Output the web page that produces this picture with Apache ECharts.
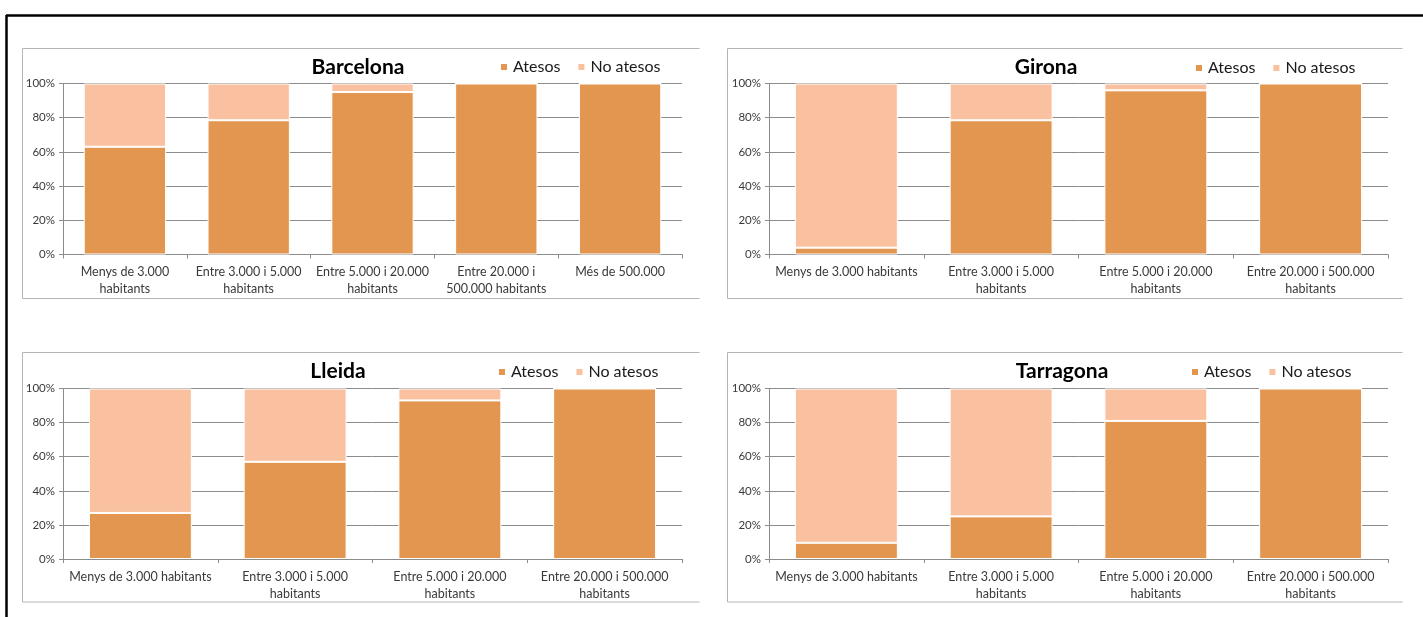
<!DOCTYPE html>
<html>
<head>
<meta charset="utf-8">
<script src="https://cdn.jsdelivr.net/npm/echarts@6/dist/echarts.min.js"></script>
<style>
  html, body { margin: 0; padding: 0; background: #fff; }
  #chart { width: 1423px; height: 617px; }
</style>
</head>
<body>
<div id="chart"></div>
<script>
// Percentage of municipalities served ("Atesos") vs not served ("No atesos"),
// by municipality size, for each of the four provinces.
const seriesNames = ['Atesos', 'No atesos'];
const yTickValues = [0, 20, 40, 60, 80, 100];

const barcelonaCategories = ['Menys de 3.000\nhabitants', 'Entre 3.000 i 5.000\nhabitants', 'Entre 5.000 i 20.000\nhabitants', 'Entre 20.000 i\n500.000 habitants', 'Més de 500.000'];
const barcelonaAtesos   = [63, 78.5, 95, 100, 100];
const barcelonaNoAtesos = [37, 21.5, 5, 0, 0];

const provinceCategories = ['Menys de 3.000 habitants', 'Entre 3.000 i 5.000\nhabitants', 'Entre 5.000 i 20.000\nhabitants', 'Entre 20.000 i 500.000\nhabitants'];

const gironaAtesos   = [4, 78.5, 96, 100];
const gironaNoAtesos = [96, 21.5, 4, 0];

const lleidaAtesos   = [27, 57, 93, 100];
const lleidaNoAtesos = [73, 43, 7, 0];

const tarragonaAtesos   = [9.5, 25, 81, 100];
const tarragonaNoAtesos = [90.5, 75, 19, 0];

const COLOR_ATESOS = '#E2964F';
const COLOR_NO_ATESOS = '#F9C19F';
const FONT = 'Lato, "Open Sans", sans-serif';

const panels = [
  { name: 'Barcelona', categories: barcelonaCategories, atesos: barcelonaAtesos, noAtesos: barcelonaNoAtesos,
    box: { x: 22.5, y: 48.5, w: 677, h: 250 }, grid: { left: 63, top: 83.5, width: 619, height: 171 },
    titleAt: [358, 67], legendAt: [499, 59] },
  { name: 'Girona', categories: provinceCategories, atesos: gironaAtesos, noAtesos: gironaNoAtesos,
    box: { x: 727.5, y: 48.5, w: 675, h: 250 }, grid: { left: 769, top: 83.5, width: 619, height: 171 },
    titleAt: [1046, 67], legendAt: [1194, 60] },
  { name: 'Lleida', categories: provinceCategories, atesos: lleidaAtesos, noAtesos: lleidaNoAtesos,
    box: { x: 22.5, y: 352.5, w: 677, h: 249.5 }, grid: { left: 63, top: 388.5, width: 619, height: 170.5 },
    titleAt: [338, 371.5], legendAt: [497, 364] },
  { name: 'Tarragona', categories: provinceCategories, atesos: tarragonaAtesos, noAtesos: tarragonaNoAtesos,
    box: { x: 727.5, y: 352.5, w: 675, h: 249.5 }, grid: { left: 769, top: 388.5, width: 619, height: 170.5 },
    titleAt: [1062, 371.5], legendAt: [1190, 364] }
];

const grids = [], xAxes = [], yAxes = [], series = [], legends = [], graphics = [];

// Outer black frame (top and left edges)
graphics.push({ type: 'line', shape: { x1: 6, y1: 15.5, x2: 1423, y2: 15.5 }, style: { stroke: '#000', lineWidth: 2.5 }, silent: true });
graphics.push({ type: 'line', shape: { x1: 6.5, y1: 15, x2: 6.5, y2: 617 }, style: { stroke: '#000', lineWidth: 2.5 }, silent: true });

panels.forEach((p, i) => {
  const b = p.box;
  // chart-area frame: top, left and bottom edges
  graphics.push({
    type: 'polyline', silent: true,
    shape: { points: [[b.x + b.w, b.y], [b.x, b.y], [b.x, b.y + b.h], [b.x + b.w, b.y + b.h]] },
    style: { stroke: '#b4b4b4', lineWidth: 1, fill: null }
  });
  graphics.push({
    type: 'text', silent: true, x: p.titleAt[0], y: p.titleAt[1],
    style: { text: p.name, font: 'bold 21px ' + FONT, fill: '#000', align: 'center', verticalAlign: 'middle' }
  });

  grids.push(Object.assign({ containLabel: false }, p.grid));

  xAxes.push({
    type: 'category', gridIndex: i, data: p.categories,
    axisLine: { show: true, lineStyle: { color: '#8c8c8c', width: 1 } },
    axisTick: { show: true, length: 4, lineStyle: { color: '#8c8c8c' } },
    axisLabel: { interval: 0, fontSize: 12.5, lineHeight: 17, color: '#3a3a3a', fontFamily: FONT, margin: 9 },
    splitLine: { show: false }
  });

  yAxes.push({
    type: 'value', gridIndex: i, min: yTickValues[0], max: yTickValues[yTickValues.length - 1], interval: 20,
    axisLine: { show: true, lineStyle: { color: '#8c8c8c', width: 1 } },
    axisTick: { show: true, length: 4, lineStyle: { color: '#8c8c8c' } },
    axisLabel: { formatter: '{value}%', fontSize: 11.5, color: '#3a3a3a', fontFamily: FONT, margin: 8 },
    splitLine: { show: true, lineStyle: { color: '#8c8c8c', width: 1 } }
  });

  const stack = 'stack' + i;
  series.push({
    name: seriesNames[0], type: 'bar', stack, xAxisIndex: i, yAxisIndex: i, data: p.atesos,
    barWidth: '66.5%', itemStyle: { color: COLOR_ATESOS, borderColor: '#fff', borderWidth: 1 }
  });
  series.push({
    name: seriesNames[1], type: 'bar', stack, xAxisIndex: i, yAxisIndex: i, data: p.noAtesos,
    barWidth: '66.5%', itemStyle: { color: COLOR_NO_ATESOS, borderColor: '#fff', borderWidth: 1 }
  });

  legends.push({
    data: seriesNames, left: p.legendAt[0], top: p.legendAt[1], padding: 0,
    itemWidth: 8, itemHeight: 8, itemGap: 16, icon: 'rect', selectedMode: false,
    textStyle: { fontSize: 16, color: '#1a1a1a', fontFamily: FONT, padding: [0, 0, 0, 0] }
  });
});

const chart = echarts.init(document.getElementById('chart'), null, { renderer: 'canvas' });
chart.setOption({
  animation: false,
  backgroundColor: '#fff',
  grid: grids, xAxis: xAxes, yAxis: yAxes, series, legend: legends,
  graphic: graphics
});
</script>
</body>
</html>
